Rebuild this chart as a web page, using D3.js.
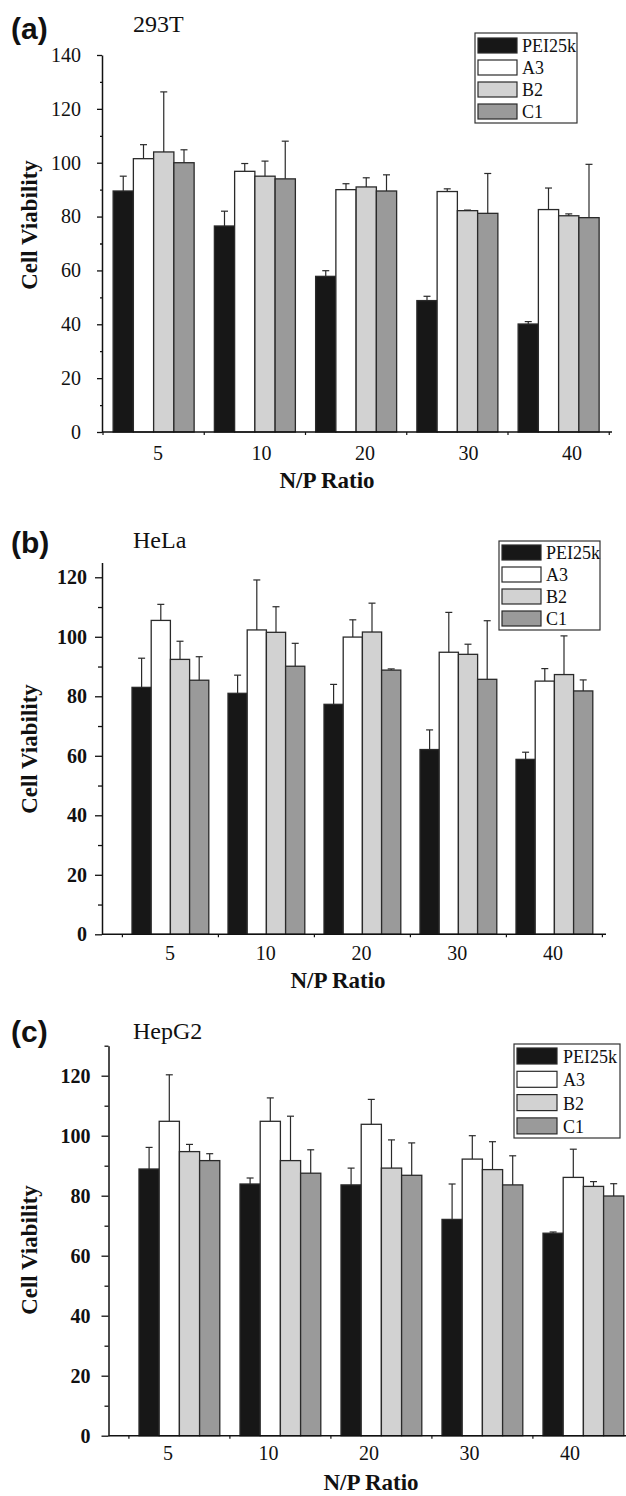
<!DOCTYPE html>
<html>
<head>
<meta charset="utf-8">
<script src="https://cdn.jsdelivr.net/npm/d3@7/dist/d3.min.js"></script>
<style>
  body { margin: 0; background: #fff; }
  svg { display: block; font-family: "Liberation Serif", "Times New Roman", serif; }
  text { fill: #111; }
</style>
</head>
<body>
<svg id="chart" width="626" height="1496"></svg>
<script>
// N/P ratios on the x axis and the four polymers
const ratios = ['5', '10', '20', '30', '40'];
const series = ['PEI25k', 'A3', 'B2', 'C1'];

// (a) 293T: rows follow series order, columns follow ratios
const t293Means = [
    [89.5, 76.5, 57.8, 48.8, 40.1],
    [101.5, 96.8, 90.0, 89.3, 82.6],
    [104.0, 95.0, 91.0, 82.2, 80.3],
    [100.0, 94.0, 89.5, 81.2, 79.6],
];
const t293Errs = [
    [5.5, 5.5, 2.1, 1.6, 0.9],
    [5.2, 2.9, 2.2, 1.0, 8.0],
    [22.3, 5.6, 3.4, 0.2, 0.7],
    [4.8, 14.0, 6.0, 14.8, 19.8],
];

// (b) HeLa
const helaMeans = [
    [83.0, 81.0, 77.3, 62.1, 58.8],
    [105.5, 102.3, 99.9, 94.8, 85.1],
    [92.4, 101.5, 101.6, 94.1, 87.3],
    [85.4, 90.1, 88.8, 85.7, 81.8],
];
const helaErrs = [
    [9.8, 6.1, 6.7, 6.6, 2.4],
    [5.4, 16.8, 5.8, 13.4, 4.2],
    [6.1, 8.6, 9.7, 3.4, 13.0],
    [7.9, 7.7, 0.4, 19.7, 3.7],
];

// (c) HepG2
const hepg2Means = [
    [88.9, 83.9, 83.6, 72.1, 67.5],
    [104.8, 104.8, 103.8, 92.2, 86.1],
    [94.7, 91.7, 89.2, 88.7, 83.1],
    [91.7, 87.5, 86.8, 83.6, 79.9],
];
const hepg2Errs = [
    [7.2, 2.0, 5.6, 11.8, 0.4],
    [15.5, 7.8, 8.3, 7.8, 9.4],
    [2.4, 14.8, 9.4, 9.3, 1.6],
    [2.3, 7.8, 10.8, 9.7, 4.1],
];

const fills = ['#171717', '#ffffff', '#d2d2d2', '#9a9a9a'];

const panels = [
    {
        letter: '(a)', title: '293T', means: t293Means, errs: t293Errs,
        yMax: 140, y0: 432, yTop: 55, axisX: 102,
        xRange: [103, 609.25], labelRange: [158, 572], axisEnd: 612,
        boldTicks: false, tickLen: 5, minorLen: 2, tickPad: 16,
        letterY: 39, titleY: 32, yTitleY: 225, xTitleX: 327, xTitleY: 488, xTickY: 460,
        legend: { x: 475, y: 33, w: 102, h: 90, sx: 478, sw: 39, sh: 15, rowY: 38, pitch: 22, tx: 522 },
    },
    {
        letter: '(b)', title: 'HeLa', means: helaMeans, errs: helaErrs,
        yMax: 125, y0: 934.3, yTop: 562.4, axisX: 102,
        xRange: [122.4, 602.4], labelRange: [170, 553], axisEnd: 606,
        boldTicks: true, tickLen: 7, minorLen: 4, tickPad: 8,
        letterY: 553, titleY: 548, yTitleY: 749, xTitleX: 338, xTitleY: 988, xTickY: 960,
        legend: { x: 499, y: 541, w: 101, h: 89, sx: 502, sw: 39, sh: 15, rowY: 545, pitch: 22, tx: 546 },
    },
    {
        letter: '(c)', title: 'HepG2', means: hepg2Means, errs: hepg2Errs,
        yMax: 130, y0: 1435.7, yTop: 1045.7, axisX: 108.5,
        xRange: [128.9, 633.9], labelRange: [168, 570], axisEnd: 626,
        boldTicks: true, tickLen: 7, minorLen: 4, tickPad: 11,
        letterY: 1042, titleY: 1039, yTitleY: 1250, xTitleX: 371, xTitleY: 1490, xTickY: 1460,
        legend: { x: 514, y: 1044, w: 106, h: 94, sx: 517, sw: 40, sh: 16, rowY: 1048, pitch: 23.3, tx: 563 },
    },
];

const svg = d3.select('#chart');

function drawPanel(p) {
    const g = svg.append('g');

    const x = d3.scaleBand().domain(ratios).range(p.xRange).paddingInner(0.2).paddingOuter(0.1);
    const xs = d3.scaleBand().domain(series).range([0, x.bandwidth()]);
    const xl = d3.scalePoint().domain(ratios).range(p.labelRange);
    const y = d3.scaleLinear().domain([0, p.yMax]).range([p.y0, p.yTop]);

    const rows = ratios.flatMap((r, i) => series.map((s, j) => ({
        r, s, j, v: p.means[j][i], e: p.errs[j][i],
    })));
    const cx = d => x(d.r) + xs(d.s) + xs.bandwidth() / 2;

    // bars
    g.append('g').selectAll('rect')
        .data(rows)
        .join('rect')
        .attr('x', d => x(d.r) + xs(d.s))
        .attr('y', d => y(d.v))
        .attr('width', xs.bandwidth())
        .attr('height', d => y(0) - y(d.v))
        .attr('fill', d => fills[d.j])
        .attr('stroke', '#2a2a2a')
        .attr('stroke-width', 1.3);

    // upper error bars with caps
    const eb = g.append('g').attr('stroke', '#2a2a2a').attr('stroke-width', 1.2);
    eb.selectAll('line.stem')
        .data(rows)
        .join('line')
        .attr('class', 'stem')
        .attr('x1', cx).attr('x2', cx)
        .attr('y1', d => y(d.v))
        .attr('y2', d => y(d.v + d.e));
    eb.selectAll('line.cap')
        .data(rows)
        .join('line')
        .attr('class', 'cap')
        .attr('x1', d => cx(d) - 3.5)
        .attr('x2', d => cx(d) + 3.5)
        .attr('y1', d => y(d.v + d.e))
        .attr('y2', d => y(d.v + d.e));

    // y axis: labelled majors every 20, minors in between
    const yAxis = g.append('g')
        .attr('transform', `translate(${p.axisX},0)`)
        .call(d3.axisLeft(y)
            .tickValues(d3.range(0, p.yMax + 1, 20))
            .tickSizeInner(p.tickLen)
            .tickSizeOuter(0)
            .tickPadding(p.tickPad));
    yAxis.attr('font-family', null);
    yAxis.selectAll('text')
        .attr('font-size', 20)
        .attr('font-weight', p.boldTicks ? 'bold' : 'normal')
        .attr('fill', '#111');
    yAxis.select('.domain').attr('stroke', '#111').attr('stroke-width', 1.5);
    yAxis.selectAll('.tick line').attr('stroke', '#111').attr('stroke-width', 1.3);

    const yMinor = g.append('g')
        .attr('transform', `translate(${p.axisX},0)`)
        .call(d3.axisLeft(y)
            .tickValues(d3.range(10, p.yMax + 1, 20))
            .tickSizeInner(p.minorLen)
            .tickSizeOuter(0)
            .tickFormat(''));
    yMinor.select('.domain').remove();
    yMinor.selectAll('.tick line').attr('stroke', '#111').attr('stroke-width', 1.3);

    // x axis line, boundary ticks and labels
    g.append('line')
        .attr('x1', p.axisX).attr('x2', p.axisEnd)
        .attr('y1', y(0)).attr('y2', y(0))
        .attr('stroke', '#111').attr('stroke-width', 1.5);

    const bounds = ratios.map(r => x(r) - x.step() * x.paddingOuter());
    bounds.push(x(ratios[ratios.length - 1]) + x.bandwidth() + x.step() * x.paddingOuter());
    g.append('g').selectAll('line')
        .data(bounds.filter(b => b < p.axisEnd - 1))
        .join('line')
        .attr('x1', d => d).attr('x2', d => d)
        .attr('y1', y(0)).attr('y2', y(0) + 3)
        .attr('stroke', '#111').attr('stroke-width', 1.2);

    g.append('g').selectAll('text')
        .data(ratios)
        .join('text')
        .attr('x', d => xl(d))
        .attr('y', p.xTickY)
        .attr('text-anchor', 'middle')
        .attr('font-size', 20)
        .text(d => d);

    // titles
    g.append('text')
        .attr('x', p.xTitleX).attr('y', p.xTitleY)
        .attr('text-anchor', 'middle')
        .attr('font-size', 23).attr('font-weight', 'bold')
        .text('N/P Ratio');

    g.append('text')
        .attr('transform', `translate(37,${p.yTitleY}) rotate(-90)`)
        .attr('text-anchor', 'middle')
        .attr('font-size', 23).attr('font-weight', 'bold')
        .text('Cell Viability');

    g.append('text')
        .attr('x', 133).attr('y', p.titleY)
        .attr('font-size', 24)
        .text(p.title);

    g.append('text')
        .attr('x', 11).attr('y', p.letterY)
        .style('font-family', '"Liberation Sans", Arial, sans-serif')
        .attr('font-size', 30).attr('font-weight', 'bold')
        .text(p.letter);

    // legend
    const L = p.legend;
    const lg = g.append('g');
    lg.append('rect')
        .attr('x', L.x).attr('y', L.y).attr('width', L.w).attr('height', L.h)
        .attr('fill', '#fff').attr('stroke', '#333').attr('stroke-width', 1.2);
    const item = lg.selectAll('g.item')
        .data(series)
        .join('g')
        .attr('class', 'item')
        .attr('transform', (d, i) => `translate(0,${L.rowY + i * L.pitch})`);
    item.append('rect')
        .attr('x', L.sx).attr('y', 0).attr('width', L.sw).attr('height', L.sh)
        .attr('fill', (d, i) => fills[i])
        .attr('stroke', '#2a2a2a').attr('stroke-width', 1.2);
    item.append('text')
        .attr('x', L.tx).attr('y', L.sh - 1)
        .attr('font-size', 18)
        .text(d => d);
}

panels.forEach(drawPanel);
</script>
</body>
</html>
